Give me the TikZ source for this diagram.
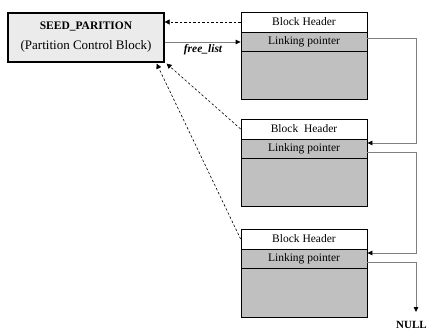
\documentclass[tikz,border=0pt]{standalone}
\usepackage{fontspec}
\setmainfont{Liberation Serif}
\usetikzlibrary{arrows.meta}
\definecolor{blockgray}{HTML}{C0C0C0}
\definecolor{seedgray}{HTML}{EBEBEB}
\definecolor{wiregray}{HTML}{808080}
\begin{document}
\begin{tikzpicture}[x=1pt,y=-1pt,
  box/.style={draw=black,line width=0.8pt,inner sep=0pt,minimum width=126pt,font=\fontsize{11.5}{12}\selectfont},
  wire/.style={draw=wiregray,line width=0.8pt,-{Triangle[length=5pt,width=4.5pt,black]}},
  backptr/.style={draw=black,line width=0.6pt,dashed,dash pattern=on 2.5pt off 2pt,-{Triangle[length=5pt,width=5pt,black]}}]
\useasboundingbox (0,0) rectangle (428,331);
% seed
\node[draw=black,line width=1.2pt,fill=seedgray,minimum width=156pt,minimum height=49pt,inner sep=0pt,align=center,font=\fontsize{13}{20}\selectfont] (seed) at (86,37.5) {{\fontsize{11.5}{20}\selectfont\bfseries SEED\_PARITION}\\(Partition Control Block)};
% block 1
\node[box,fill=white,minimum height=20pt] (h1) at (304,22) {Block Header};
\node[box,fill=blockgray,minimum height=19pt] (l1) at (304,41.5) {Linking pointer};
\node[box,fill=blockgray,minimum height=48pt] (b1) at (304,75) {};
% block 2
\node[box,fill=white,minimum height=20pt] (h2) at (304,129) {Block\ \ Header};
\node[box,fill=blockgray,minimum height=19pt] (l2) at (304,148.5) {Linking pointer};
\node[box,fill=blockgray,minimum height=48pt] (b2) at (304,182) {};
% block 3
\node[box,fill=white,minimum height=20pt] (h3) at (304,239) {Block Header};
\node[box,fill=blockgray,minimum height=19pt] (l3) at (304,258.5) {Linking pointer};
\node[box,fill=blockgray,minimum height=49pt] (b3) at (304,292.5) {};
% free list
\draw[wire] ([yshift=-4.5pt]seed.east) -- ([yshift=-0.5pt]l1.west);
\node[font=\fontsize{11.5}{12}\selectfont\bfseries\itshape] (fl) at (203,50) {free\_list};
% chain
\coordinate (c1a) at (416,38);
\coordinate (c1b) at (416,143);
\coordinate (c2a) at (416,152);
\coordinate (c2b) at (416,253);
\coordinate (c3a) at (416,262);
\coordinate (nullpt) at (416,312);
\draw[wire] ([yshift=3.5pt]l1.east) -- (c1a) -- (c1b) -- ([yshift=5.5pt]l2.east);
\draw[wire] ([yshift=-3.5pt]l2.east) -- (c2a) -- (c2b) -- ([yshift=5.5pt]l3.east);
\draw[wire] ([yshift=-3.5pt]l3.east) -- (c3a) -- (nullpt);
\node[anchor=base west,inner sep=0pt,font=\fontsize{11}{11}\selectfont\bfseries] (null) at (396,328.5) {NULL};
% dashed back pointers
\draw[backptr] (h1.west) -- (seed.east |- h1.west);
\draw[backptr] (h2.west) -- ([xshift=2pt,yshift=-1pt]seed.south east);
\draw[backptr] (h3.west) -- ([xshift=-8pt,yshift=-1pt]seed.south east);
\end{tikzpicture}
\end{document}
